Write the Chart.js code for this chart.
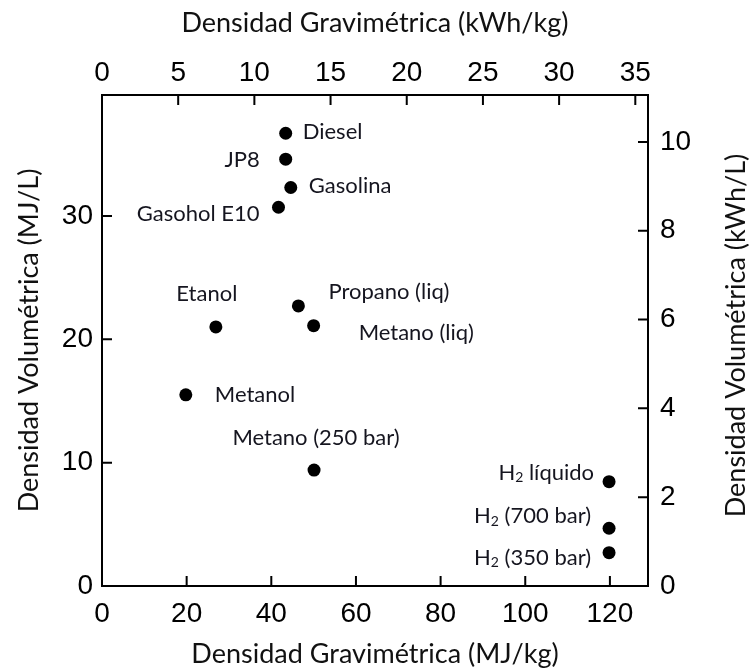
<!DOCTYPE html>
<html><head><meta charset="utf-8">
<script src="https://cdn.jsdelivr.net/npm/chart.js@4.4.1/dist/chart.umd.min.js"></script>
<style>html,body{margin:0;padding:0;background:#fff}</style>
</head><body>
<canvas id="c" width="749" height="671"></canvas>
<script>
// ---- data ----
const fuels = ["Diesel","JP8","Gasolina","Gasohol E10","Propano (liq)","Etanol","Metano (liq)","Metanol","Metano (250 bar)","H₂ líquido","H₂ (700 bar)","H₂ (350 bar)"];
const gravimetricMJkg = [43.4, 43.4, 44.6, 41.7, 46.4, 26.9, 50.0, 19.8, 50.1, 119.8, 119.8, 119.8];
const volumetricMJL  = [36.7, 34.6, 32.3, 30.7, 22.7, 21.0, 21.1, 15.5, 9.4, 8.46, 4.68, 2.70];
const MJ_PER_KWH = 3.6;
const xMaxMJkg = 129;
const yMaxMJL = 39.8;
const rightTitle = 'Densidad Volumétrica (kWh/L)';

// ---- label placement (style, not data) ----
const labelOffsets = [
  [17,-1,'left'],[-26,1,'right'],[18,-2,'left'],[-19,7,'right'],
  [30,-14,'left'],[-9,-33,'center'],[45,7,'left'],[29,0,'left'],
  [2,-32,'center'],[-15,-9,'right'],[-18,-12,'right'],[-18,5,'right']
];
const LABEL_FONT_SIZE = 22;
const LABEL_FAMILY = 'Lato';
const AXIS_TITLE_FONT = {family:'Lato', size:27, lineHeight:1};
const TICK_FONT = {family:'Liberation Sans', size:28};

function drawLabel(ctx, text, x, y, align){
  const norm = LABEL_FONT_SIZE + 'px ' + LABEL_FAMILY;
  const sub = Math.round(LABEL_FONT_SIZE*0.65) + 'px ' + LABEL_FAMILY;
  const parts = [];
  const i = text.indexOf('₂');
  if (i >= 0) {
    parts.push([text.slice(0,i), norm, 0]);
    parts.push(['2', sub, 5]);
    parts.push([text.slice(i+1), norm, 0]);
  } else parts.push([text, norm, 0]);
  let total = 0;
  parts.forEach(p=>{ ctx.font=p[1]; p.push(ctx.measureText(p[0]).width); total += p[3]; });
  let sx = align==='left' ? x : align==='right' ? x-total : x-total/2;
  ctx.textAlign='left'; ctx.textBaseline='middle';
  parts.forEach(p=>{ ctx.font=p[1]; ctx.fillText(p[0], sx, y+p[2]); sx += p[3]; });
}

const labelPlugin = {
  id:'labels',
  afterDatasetsDraw(chart){
    const ctx = chart.ctx; const meta = chart.getDatasetMeta(0);
    ctx.save(); ctx.fillStyle='#15151f';
    meta.data.forEach((pt,i)=>{
      const o = labelOffsets[i];
      drawLabel(ctx, fuels[i], pt.x+o[0], pt.y+o[1], o[2]);
    });
    ctx.restore();
  }
};

const tickMarkPlugin = {
  id:'innerTicks',
  afterDraw(chart){
    const ctx = chart.ctx; const a = chart.chartArea; const L = 10;
    ctx.save(); ctx.strokeStyle='#000'; ctx.lineWidth=2; ctx.beginPath();
    chart.scales.x.ticks.forEach(t=>{const p=chart.scales.x.getPixelForValue(t.value); ctx.moveTo(p,a.bottom); ctx.lineTo(p,a.bottom-L);});
    chart.scales.x2.ticks.forEach(t=>{const p=chart.scales.x2.getPixelForValue(t.value); ctx.moveTo(p,a.top); ctx.lineTo(p,a.top+L);});
    chart.scales.y.ticks.forEach(t=>{const p=chart.scales.y.getPixelForValue(t.value); ctx.moveTo(a.left,p); ctx.lineTo(a.left+L,p);});
    chart.scales.y2.ticks.forEach(t=>{const p=chart.scales.y2.getPixelForValue(t.value); ctx.moveTo(a.right,p); ctx.lineTo(a.right-L,p);});
    ctx.stroke();
    // right axis title, reading bottom-to-top like the left one
    const s = chart.scales.y2;
    ctx.translate(s.right - 13, (a.top+a.bottom)/2 - 5);
    ctx.rotate(-Math.PI/2);
    ctx.font = AXIS_TITLE_FONT.size + 'px ' + AXIS_TITLE_FONT.family;
    ctx.fillStyle='#111'; ctx.textAlign='center'; ctx.textBaseline='middle';
    ctx.fillText(rightTitle, 0, 0);
    ctx.restore();
  }
};

const whiteBg = {id:'bg', beforeDraw(c){const x=c.ctx; x.save(); x.fillStyle='#fff'; x.fillRect(0,0,c.width,c.height); x.restore();}};

function axis(pos, min, max, step, pad, title, tpad, size){
  return {
    type:'linear', position:pos, display:true, min:min, max:max,
    ticks:{stepSize:step, includeBounds:false, autoSkip:false, maxRotation:0, padding:pad, font:TICK_FONT, color:'#000'},
    grid:{display:false, drawTicks:false},
    border:{display:true, color:'#000', width:2},
    title:{display:!!title, text:title, font:AXIS_TITLE_FONT, color:'#111', padding:tpad},
    afterFit(s){ if(pos==='left'||pos==='right') s.width=size; else s.height=size; }
  };
}

new Chart(document.getElementById('c'), {
  type:'scatter',
  data:{ datasets:[{
    data: gravimetricMJkg.map((x,i)=>({x:x, y:volumetricMJL[i]})),
    backgroundColor:'#000', borderWidth:0, pointRadius:6.5, pointHoverRadius:6.5,
    xAxisID:'x', yAxisID:'y', clip:false
  }]},
  options:{
    responsive:false, animation:false, devicePixelRatio:1,
    layout:{padding:0},
    plugins:{legend:{display:false}, tooltip:{enabled:false}},
    scales:{
      x: axis('bottom', 0, xMaxMJkg, 20, 11, 'Densidad Gravimétrica (MJ/kg)', {top:0,bottom:3}, 85),
      x2: axis('top', 0, xMaxMJkg/MJ_PER_KWH, 5, 5, 'Densidad Gravimétrica (kWh/kg)', {top:10,bottom:0}, 95),
      y: axis('left', 0, yMaxMJL, 10, 9, 'Densidad Volumétrica (MJ/L)', {top:16,bottom:0}, 102),
      y2: axis('right', 0, yMaxMJL/MJ_PER_KWH, 2, 12, '', {top:0,bottom:0}, 101)
    }
  },
  plugins:[whiteBg, labelPlugin, tickMarkPlugin]
});
</script>
</body></html>
